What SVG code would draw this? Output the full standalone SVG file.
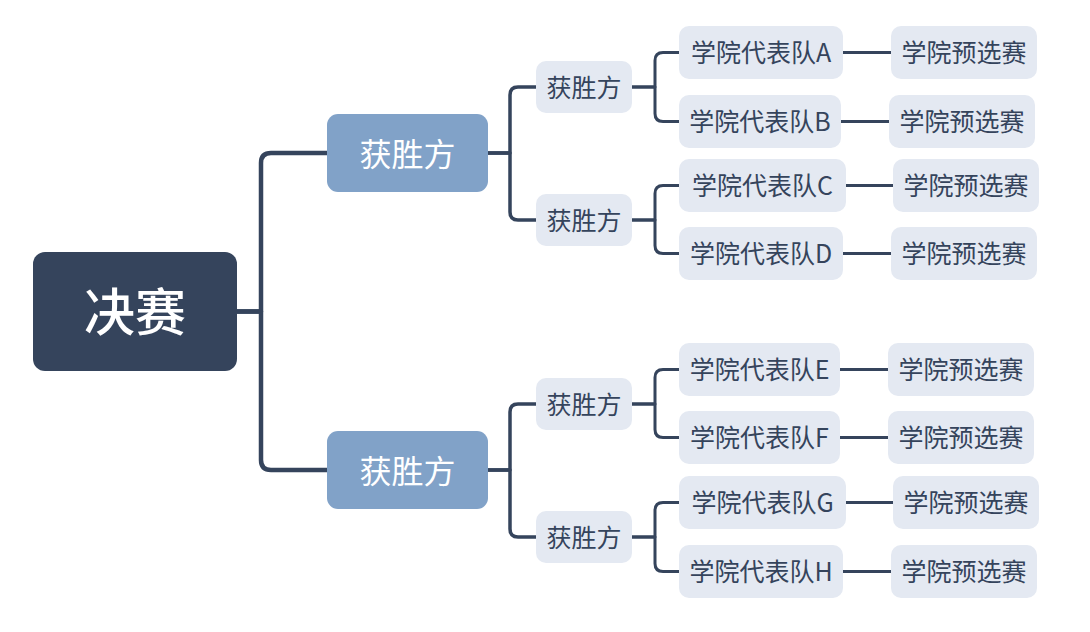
<svg xmlns="http://www.w3.org/2000/svg" width="1090" height="632" viewBox="0 0 1090 632">
<style>
  text { font-family: "Noto Sans CJK SC", "Noto Sans", sans-serif; text-anchor: middle; dominant-baseline: central; }
  .root rect { fill: #35445c; }
  .root text { fill: #ffffff; font-size: 51px; font-weight: 500; }
  .l1 rect { fill: #81a2c8; }
  .l1 text { fill: #ffffff; font-size: 32px; }
  .n rect { fill: #e4e9f2; }
  .n text { fill: #35445c; font-size: 25px; }
  .c { fill: none; stroke: #35445c; stroke-linecap: butt; stroke-linejoin: round; }
  .c0 { stroke-width: 4.5; }
  .c1 { stroke-width: 3.5; }
  .c2 { stroke-width: 3; }
</style>
<rect width="1090" height="632" fill="#ffffff"/>
<g id="connectors">
  <path class="c c0" d="M237,311.5 H261 V163 Q261,153 271,153 H327"/>
  <path class="c c0" d="M237,311.5 H261 V460 Q261,470 271,470 H327"/>
  <path class="c c1" d="M488,153 H510 V95 Q510,87 518,87 H536"/>
  <path class="c c1" d="M488,153 H510 V212 Q510,220 518,220 H536"/>
  <path class="c c1" d="M488,470 H510 V412 Q510,404 518,404 H536"/>
  <path class="c c1" d="M488,470 H510 V529 Q510,537 518,537 H536"/>
  <path class="c c2" d="M632,87 H655 V60.5 Q655,52.5 663,52.5 H679"/>
  <path class="c c2" d="M632,87 H655 V113.5 Q655,121.5 663,121.5 H679"/>
  <path class="c c2" d="M632,220 H655 V193.5 Q655,185.5 663,185.5 H679"/>
  <path class="c c2" d="M632,220 H655 V245.5 Q655,253.5 663,253.5 H679"/>
  <path class="c c2" d="M632,404 H655 V377.5 Q655,369.5 663,369.5 H679"/>
  <path class="c c2" d="M632,404 H655 V429.5 Q655,437.5 663,437.5 H679"/>
  <path class="c c2" d="M632,537 H655 V510.5 Q655,502.5 663,502.5 H679"/>
  <path class="c c2" d="M632,537 H655 V563.5 Q655,571.5 663,571.5 H679"/>
  <path class="c c2" d="M843,52.5 H891"/>
  <path class="c c2" d="M841,121.5 H889"/>
  <path class="c c2" d="M846,185.5 H893"/>
  <path class="c c2" d="M843,253.5 H891"/>
  <path class="c c2" d="M840,369.5 H888"/>
  <path class="c c2" d="M840,437.5 H888"/>
  <path class="c c2" d="M846,502.5 H893"/>
  <path class="c c2" d="M843,571.5 H891"/>
</g>
<g id="root" class="root"><rect x="33" y="252" width="204" height="119" rx="12"/><text x="135" y="309">决赛</text></g>
<g id="w1" class="l1"><rect x="327" y="114" width="161" height="78" rx="11"/><text x="407.5" y="151.5">获胜方</text></g>
<g id="w2" class="l1"><rect x="327" y="431" width="161" height="78" rx="11"/><text x="407.5" y="468.5">获胜方</text></g>
<g id="w11" class="n"><rect x="536" y="61" width="96" height="52" rx="10"/><text x="584" y="85.5">获胜方</text></g>
<g id="w12" class="n"><rect x="536" y="194" width="96" height="52" rx="10"/><text x="584" y="218.5">获胜方</text></g>
<g id="w21" class="n"><rect x="536" y="378" width="96" height="52" rx="10"/><text x="584" y="402.5">获胜方</text></g>
<g id="w22" class="n"><rect x="536" y="511" width="96" height="52" rx="10"/><text x="584" y="535.5">获胜方</text></g>
<g id="tA" class="n"><rect x="679" y="26" width="164" height="53" rx="10"/><text x="761" y="51">学院代表队A</text></g>
<g id="tB" class="n"><rect x="679" y="95" width="162" height="53" rx="10"/><text x="760" y="120">学院代表队B</text></g>
<g id="tC" class="n"><rect x="679" y="159" width="167" height="53" rx="10"/><text x="762.5" y="184">学院代表队C</text></g>
<g id="tD" class="n"><rect x="679" y="227" width="164" height="53" rx="10"/><text x="761" y="252">学院代表队D</text></g>
<g id="tE" class="n"><rect x="679" y="343" width="161" height="53" rx="10"/><text x="759.5" y="368">学院代表队E</text></g>
<g id="tF" class="n"><rect x="679" y="411" width="161" height="53" rx="10"/><text x="759.5" y="436">学院代表队F</text></g>
<g id="tG" class="n"><rect x="679" y="476" width="167" height="53" rx="10"/><text x="762.5" y="501">学院代表队G</text></g>
<g id="tH" class="n"><rect x="679" y="545" width="164" height="53" rx="10"/><text x="761" y="570">学院代表队H</text></g>
<g id="pA" class="n"><rect x="891" y="26" width="146" height="53" rx="10"/><text x="964" y="51">学院预选赛</text></g>
<g id="pB" class="n"><rect x="889" y="95" width="146" height="53" rx="10"/><text x="962" y="120">学院预选赛</text></g>
<g id="pC" class="n"><rect x="893" y="159" width="146" height="53" rx="10"/><text x="966" y="184">学院预选赛</text></g>
<g id="pD" class="n"><rect x="891" y="227" width="146" height="53" rx="10"/><text x="964" y="252">学院预选赛</text></g>
<g id="pE" class="n"><rect x="888" y="343" width="146" height="53" rx="10"/><text x="961" y="368">学院预选赛</text></g>
<g id="pF" class="n"><rect x="888" y="411" width="146" height="53" rx="10"/><text x="961" y="436">学院预选赛</text></g>
<g id="pG" class="n"><rect x="893" y="476" width="146" height="53" rx="10"/><text x="966" y="501">学院预选赛</text></g>
<g id="pH" class="n"><rect x="891" y="545" width="146" height="53" rx="10"/><text x="964" y="570">学院预选赛</text></g>
</svg>
